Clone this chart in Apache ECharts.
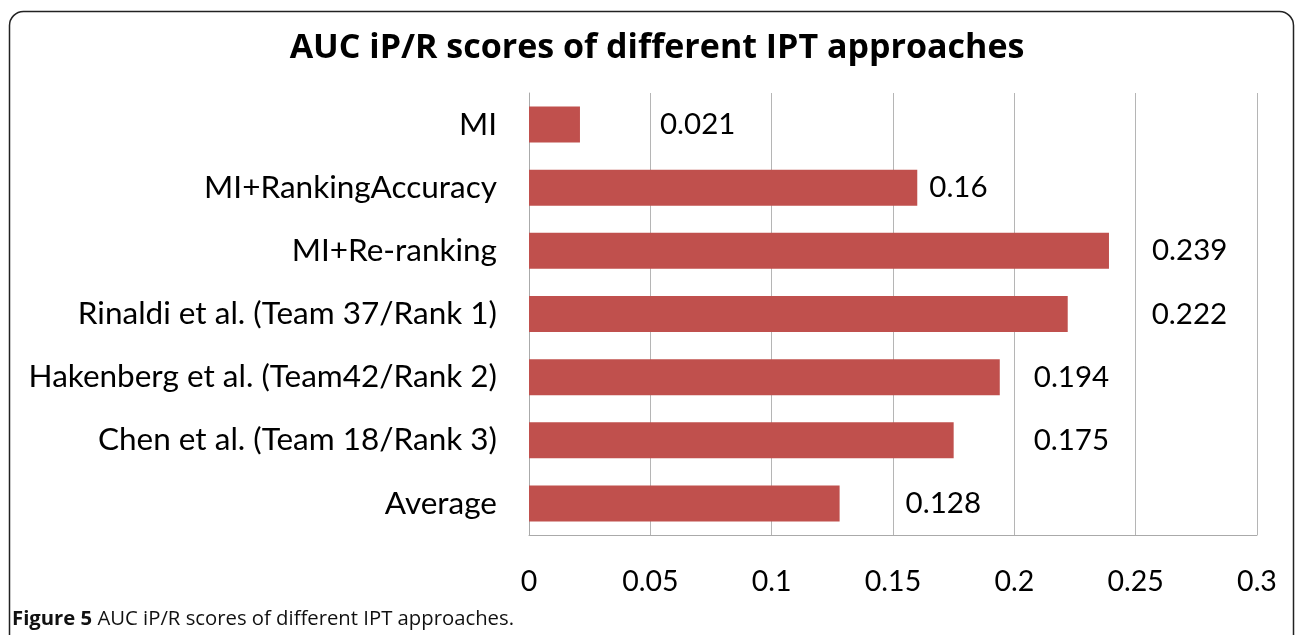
<!DOCTYPE html>
<html>
<head>
<meta charset="utf-8">
<script src="https://cdn.jsdelivr.net/npm/echarts@6/dist/echarts.min.js"></script>
<style>html,body{margin:0;padding:0;background:#fff;}#c{width:1295px;height:635px;}</style>
</head>
<body>
<div id="c"></div>
<script>
const categories = ["MI", "MI+RankingAccuracy", "MI+Re-ranking", "Rinaldi et al. (Team 37/Rank 1)", "Hakenberg et al. (Team42/Rank 2)", "Chen et al. (Team 18/Rank 3)", "Average"];
const values = [0.021, 0.16, 0.239, 0.222, 0.194, 0.175, 0.128];
const xTicks = [0, 0.05, 0.1, 0.15, 0.2, 0.25, 0.3];
// label gaps (pixels) from bar end, as in the reference
const labelGap = [80, 12, 43, 84, 34, 80, 66];

const chart = echarts.init(document.getElementById('c'), null, {renderer: 'canvas'});
const font = "Lato, 'Open Sans', sans-serif";
chart.setOption({
  animation: false,
  title: {
    text: "AUC iP/R scores of different IPT approaches",
    left: 652, top: 26, textAlign: 'center',
    textStyle: {fontFamily: "'Open Sans', Lato, sans-serif", fontWeight: 'bold', fontSize: 34, color: '#000'}
  },
  graphic: [
    {type: 'rect', shape: {x: 9.5, y: 11.5, width: 1284, height: 660, r: 14}, style: {fill: 'none', stroke: '#222', lineWidth: 1.5}, z: -1},
    {type: 'text', left: 12, top: 609, style: {
      text: '{b|Figure 5} AUC iP/R scores of different IPT approaches.',
      font: "20.3px 'Open Sans', sans-serif", fill: '#111',
      rich: {b: {fontWeight: 'bold', fontSize: 20.3, fontFamily: "'Open Sans', sans-serif", fill: '#111'}}
    }}
  ],
  grid: {left: 529, top: 93, width: 728, height: 442, containLabel: false},
  xAxis: {
    type: 'value', min: 0, max: 0.3, interval: 0.05,
    axisLine: {show: true, lineStyle: {color: '#aaa', width: 1}},
    axisTick: {show: false},
    splitLine: {show: true, lineStyle: {color: '#b5b5b5', width: 1}},
    axisLabel: {fontFamily: font, fontSize: 28.5, color: '#000', margin: 32,
      formatter: v => { const t = xTicks.find(x => Math.abs(x - v) < 1e-9); return t === undefined ? '' : String(t); }}
  },
  yAxis: {
    type: 'category', data: categories, inverse: true,
    axisLine: {show: true, lineStyle: {color: '#aaa', width: 1}},
    axisTick: {show: false},
    axisLabel: {fontFamily: font, fontSize: 31.5, color: '#000', margin: 32}
  },
  series: [{
    type: 'bar',
    barCategoryGap: '43%',
    itemStyle: {color: '#C0504D'},
    data: values.map((v, i) => ({
      value: v,
      label: {show: true, position: 'right', distance: labelGap[i], fontFamily: font, fontSize: 29.5, color: '#000',
        formatter: p => String(values[p.dataIndex])}
    }))
  }]
});
</script>
</body>
</html>
